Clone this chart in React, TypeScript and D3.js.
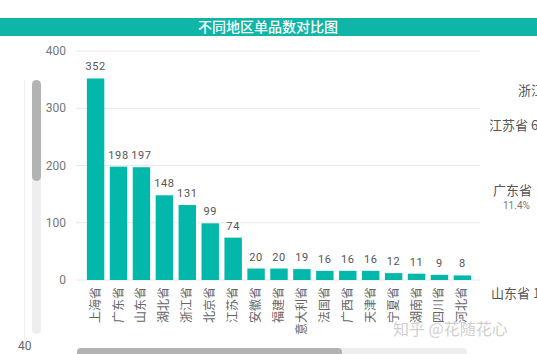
import * as d3 from 'd3';
import React from 'react';

// values
const regions = ['上海省', '广东省', '山东省', '湖北省', '浙江省', '北京省', '江苏省', '安徽省', '福建省',
  '意大利省', '法国省', '广西省', '天津省', '宁夏省', '湖南省', '四川省', '河北省'];
const counts = [352, 198, 197, 148, 131, 99, 74, 20, 20, 19, 16, 16, 16, 12, 11, 9, 8];
const yTicks = [0, 100, 200, 300, 400];

// part of the neighbouring pie chart, cut off at the right edge
const pieLabels = [
  { text: '浙江', x: 518, y: 95 },
  { text: '江苏省 6', x: 489, y: 130 },
  { text: '广东省', x: 493, y: 195 },
  { text: '山东省 1', x: 491, y: 298 },
];

const params = {
  width: 537,
  height: 354,
  teal: '#01b8aa',
};

const App = () => {
  const x = d3.scaleBand<string>()
    .domain(regions)
    .range([80, 478])
    .paddingInner(0.24)
    .paddingOuter(0.3);
  const y = d3.scaleLinear().domain([0, 400]).range([280, 51]);

  const font = 'Roboto, "Noto Sans CJK SC", sans-serif';
  const cjk = '"Noto Sans CJK SC", sans-serif';

  return (
    <svg width={params.width} height={params.height}
      style={{ position: 'absolute', left: 0, top: 0, background: '#fff' }}>
      {/* title band */}
      <rect x={0} y={18} width={params.width} height={18} fill="#0fb5a7" />
      <text x={268} y={32} textAnchor="middle" fill="#fff" fontSize={14} fontWeight={500} fontFamily={cjk}>
        不同地区单品数对比图
      </text>

      {/* grid + y axis */}
      {yTicks.map(t => (
        <g key={t}>
          <line x1={76} x2={480} y1={y(t)} y2={y(t)} stroke="#e8e8e8" strokeWidth={1} />
          <text x={66} y={y(t) + 4} textAnchor="end" fill="#777" fontSize={12} fontFamily={font}>{t}</text>
        </g>
      ))}

      {/* bars */}
      {regions.map((r, i) => (
        <g key={r}>
          <rect x={x(r)} y={y(counts[i])} width={x.bandwidth()} height={y(0) - y(counts[i])} fill={params.teal} />
          <text x={(x(r) as number) + x.bandwidth() / 2} y={y(counts[i]) - 8} textAnchor="middle"
            fill="#555" fontSize={11} letterSpacing={0.6} fontFamily={font}>{counts[i]}</text>
          <text transform={`translate(${(x(r) as number) + x.bandwidth() / 2 + 4},287) rotate(-90)`}
            textAnchor="end" fill="#666" fontSize={12} fontFamily={cjk}>{r}</text>
        </g>
      ))}

      {/* left vertical scrollbar */}
      <line x1={24.5} x2={24.5} y1={80} y2={340} stroke="#eeeeee" />
      <rect x={32} y={80} width={9} height={254} rx={4.5} fill="#eeeeee" />
      <rect x={32} y={80} width={9} height={101} rx={4.5} fill="#b3b3b3" />
      <text x={18} y={350} fill="#666" fontSize={12} fontFamily={font}>40</text>

      {/* bottom horizontal scrollbar */}
      <rect x={77} y={348} width={390} height={10} rx={4} fill="#eeeeee" />
      <rect x={77} y={348} width={265} height={10} rx={4} fill="#b3b3b3" />

      {/* clipped pie labels */}
      {pieLabels.map(p => (
        <text key={p.text} x={p.x} y={p.y} fill="#555" fontSize={13} fontFamily={cjk}>{p.text}</text>
      ))}
      <text x={503} y={209} fill="#777" fontSize={10} fontFamily={font}>11.4%</text>

      {/* watermark */}
      <text x={393} y={335} fill="#d0d0d0" fontSize={16} fontFamily={cjk}>知乎 @花随花心</text>
    </svg>
  );
};

export default App;
